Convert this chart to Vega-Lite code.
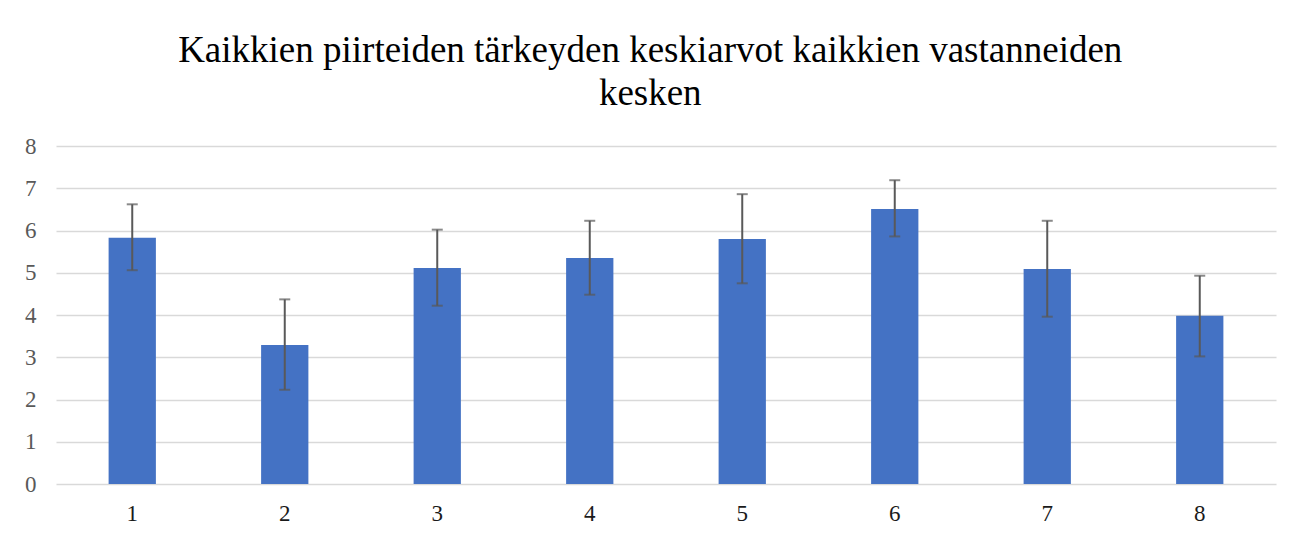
{
  "$schema": "https://vega.github.io/schema/vega-lite/v6.json",
  "width": 1220,
  "height": 338,
  "padding": {"left": 24, "top": 32, "right": 29, "bottom": 6},
  "background": "white",
  "title": {
    "text": ["Kaikkien piirteiden tärkeyden keskiarvot kaikkien vastanneiden", "kesken"],
    "font": "Liberation Serif",
    "fontSize": 37,
    "fontWeight": "normal",
    "color": "#000000",
    "lineHeight": 43,
    "anchor": "middle",
    "frame": "bounds",
    "offset": 22
  },
  "data": {
    "values": [
      {"kategoria": "1", "keskiarvo": 5.83, "ala": 5.06, "yla": 6.62},
      {"kategoria": "2", "keskiarvo": 3.29, "ala": 2.23, "yla": 4.37},
      {"kategoria": "3", "keskiarvo": 5.11, "ala": 4.22, "yla": 6.02},
      {"kategoria": "4", "keskiarvo": 5.35, "ala": 4.48, "yla": 6.23},
      {"kategoria": "5", "keskiarvo": 5.80, "ala": 4.75, "yla": 6.86},
      {"kategoria": "6", "keskiarvo": 6.51, "ala": 5.86, "yla": 7.19},
      {"kategoria": "7", "keskiarvo": 5.09, "ala": 3.96, "yla": 6.23},
      {"kategoria": "8", "keskiarvo": 3.98, "ala": 3.02, "yla": 4.93}
    ]
  },
  "encoding": {
    "x": {
      "field": "kategoria",
      "type": "nominal",
      "scale": {"paddingInner": 0.69, "paddingOuter": 0.345},
      "axis": {
        "title": null,
        "labelAngle": 0,
        "labelFont": "Liberation Serif",
        "labelFontSize": 23,
        "labelColor": "#1a1a1a",
        "labelPadding": 18,
        "ticks": false,
        "domain": false,
        "grid": false
      }
    }
  },
  "layer": [
    {
      "mark": {"type": "bar", "color": "#4472C4"},
      "encoding": {
        "y": {
          "field": "keskiarvo",
          "type": "quantitative",
          "scale": {"domain": [0, 8], "nice": false}
        }
      }
    },
    {
      "mark": {"type": "rule", "color": "#595959", "strokeWidth": 2},
      "encoding": {
        "y": {"field": "ala", "type": "quantitative"},
        "y2": {"field": "yla"}
      }
    },
    {
      "mark": {"type": "tick", "color": "#595959", "thickness": 2, "size": 11, "orient": "horizontal"},
      "encoding": {
        "y": {"field": "ala", "type": "quantitative"}
      }
    },
    {
      "mark": {"type": "tick", "color": "#595959", "thickness": 2, "size": 11, "orient": "horizontal"},
      "encoding": {
        "y": {"field": "yla", "type": "quantitative"}
      }
    }
  ],
  "config": {
    "view": {"stroke": null},
    "axisY": {
      "title": null,
      "values": [0, 1, 2, 3, 4, 5, 6, 7, 8],
      "labelOverlap": false,
      "labelFont": "Liberation Serif",
      "labelFontSize": 23,
      "labelColor": "#595959",
      "labelPadding": 20,
      "ticks": false,
      "domain": false,
      "grid": true,
      "gridColor": "#d9d9d9",
      "gridWidth": 1.5
    }
  }
}
